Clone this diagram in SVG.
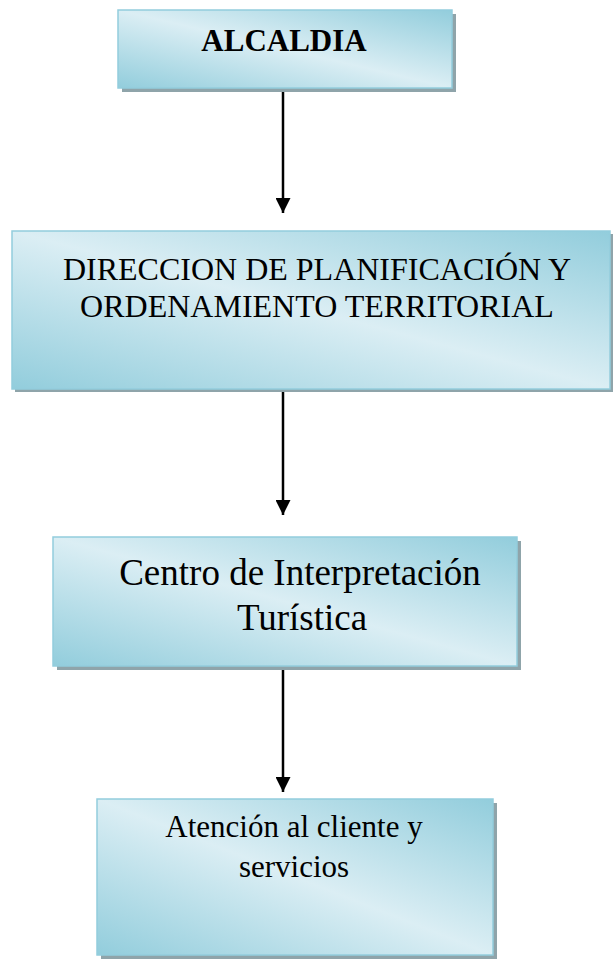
<svg xmlns="http://www.w3.org/2000/svg" width="613" height="960" viewBox="0 0 613 960">
<defs>
<linearGradient id="g" x1="1" y1="0" x2="0" y2="1">
<stop offset="0" stop-color="#92cddc"/>
<stop offset="0.5" stop-color="#dbeef4"/>
<stop offset="1" stop-color="#92cddc"/>
</linearGradient>
<marker id="ah" viewBox="0 0 10 10" refX="10" refY="5" markerWidth="15" markerHeight="15" markerUnits="userSpaceOnUse" orient="auto">
<path d="M0,0 L10,5 L0,10 Z" fill="#000"/>
</marker>
<style>
.shadow{fill:#8fa4aa}
.box{fill:url(#g);stroke:#93cddd;stroke-width:1.5}
.t{font-family:"Liberation Serif","Times New Roman",serif;fill:#000;text-anchor:middle}
.conn{stroke:#000;stroke-width:2.5;fill:none}
</style>
</defs>
<g id="connectors">
<line class="conn" x1="283" y1="92" x2="283" y2="213" marker-end="url(#ah)"/>
<line class="conn" x1="283" y1="392" x2="283" y2="515" marker-end="url(#ah)"/>
<line class="conn" x1="283" y1="670" x2="283" y2="792" marker-end="url(#ah)"/>
</g>
<g id="alcaldia">
<rect class="shadow" x="122" y="14" width="334" height="78"/>
<rect class="box" x="118" y="10" width="334" height="78"/>
<text class="t" x="284" y="51" font-size="31" font-weight="bold">ALCALDIA</text>
</g>
<g id="direccion">
<rect class="shadow" x="15" y="234" width="598" height="158"/>
<rect class="box" x="12" y="231" width="598" height="158"/>
<text class="t" x="317" y="280" font-size="32">DIRECCION DE PLANIFICACIÓN Y</text>
<text class="t" x="317" y="317" font-size="32">ORDENAMIENTO TERRITORIAL</text>
</g>
<g id="centro">
<rect class="shadow" x="57" y="541" width="464" height="129"/>
<rect class="box" x="53" y="537" width="464" height="129"/>
<text class="t" x="300" y="585" font-size="37">Centro de Interpretación</text>
<text class="t" x="302" y="630" font-size="37">Turística</text>
</g>
<g id="atencion">
<rect class="shadow" x="101" y="803" width="396" height="156"/>
<rect class="box" x="97" y="799" width="396" height="156"/>
<text class="t" x="294" y="837" font-size="31">Atención al cliente y</text>
<text class="t" x="294" y="877" font-size="31">servicios</text>
</g>
</svg>
